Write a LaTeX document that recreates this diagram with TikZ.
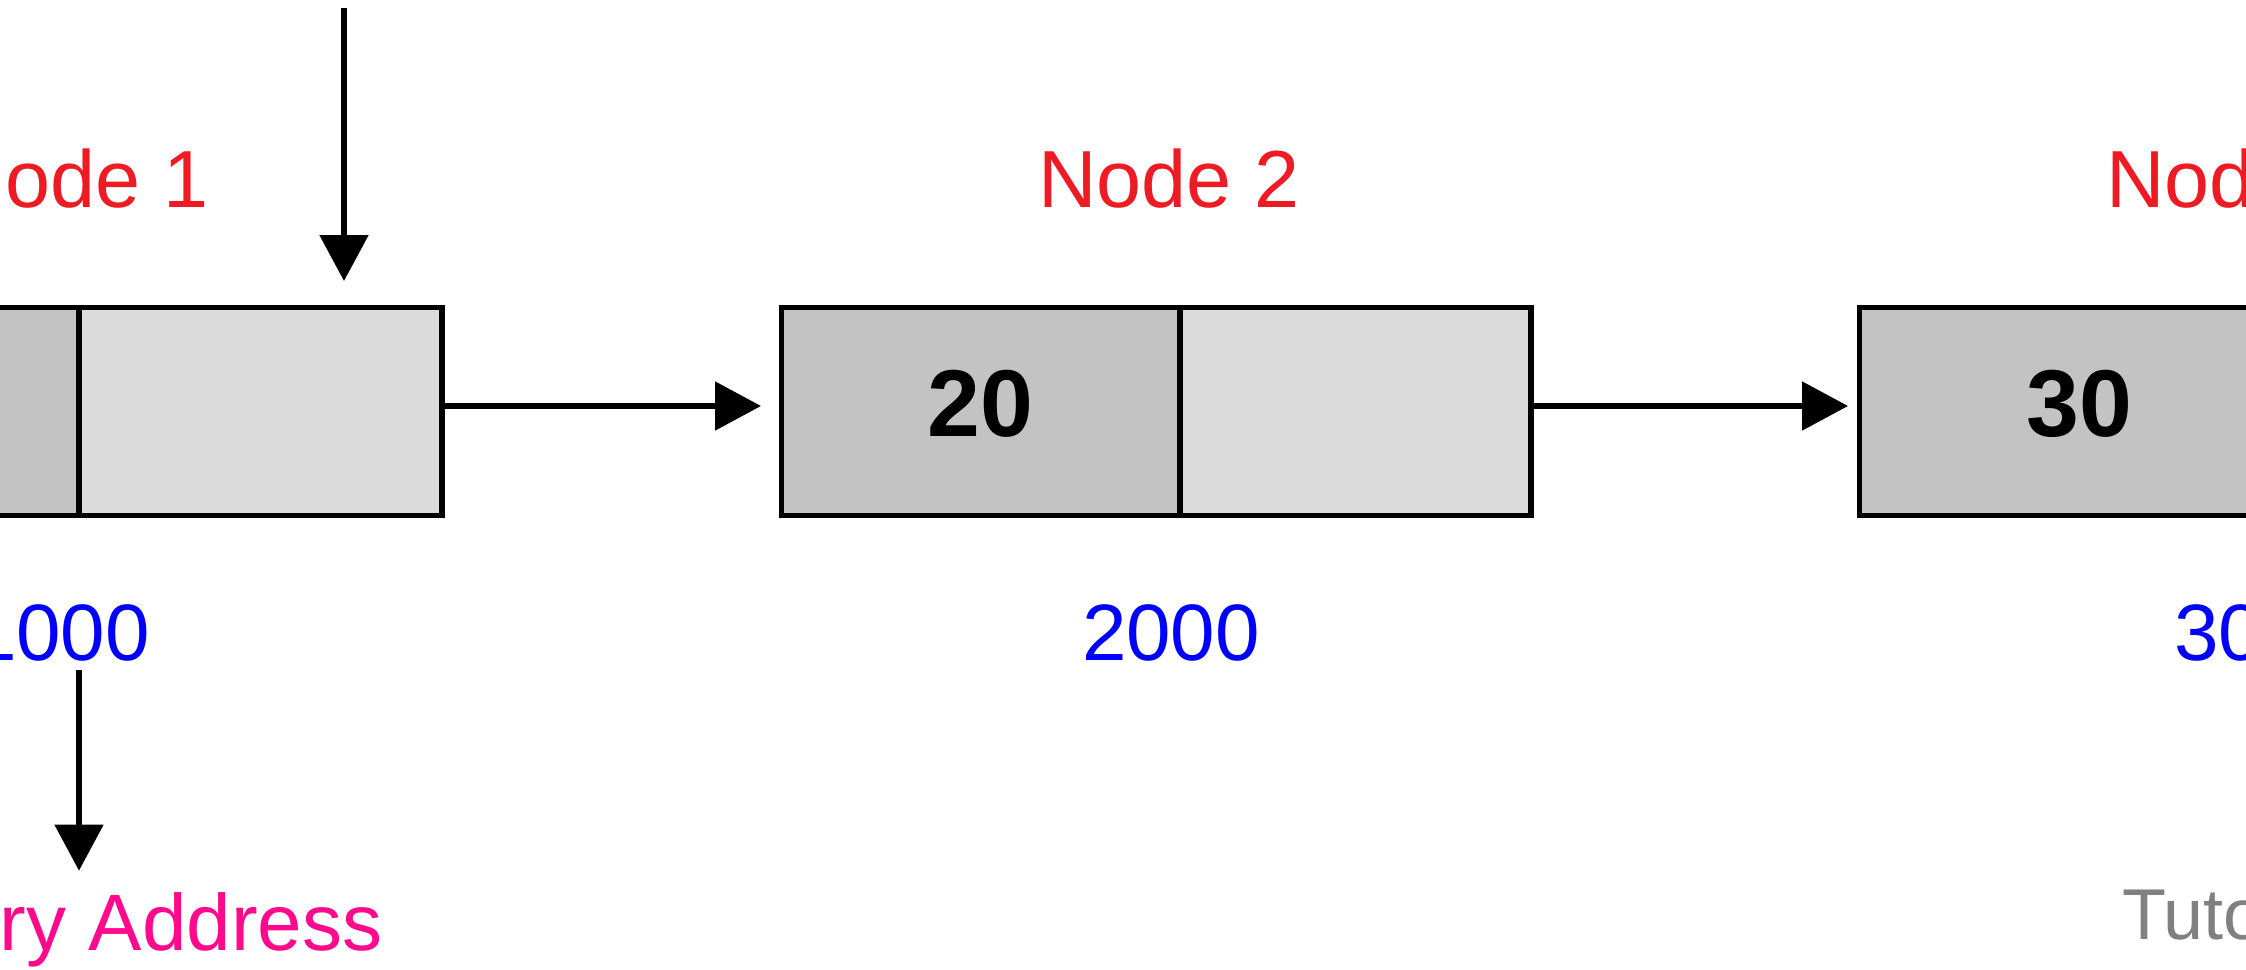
\documentclass[tikz,border=0pt]{standalone}
\usepackage{fontspec}
\setmainfont{Liberation Sans}
\usetikzlibrary{arrows.meta}
\definecolor{lblred}{RGB}{237,28,36}
\definecolor{addrblue}{RGB}{0,0,255}
\definecolor{mempink}{RGB}{255,10,140}
\definecolor{datafill}{RGB}{195,195,195}
\definecolor{linkfill}{RGB}{219,219,219}
\definecolor{markgray}{RGB}{128,128,128}
\tikzset{
  datapart/.style={draw=black, line width=2.8pt, fill=datafill, outer sep=0pt,
    minimum height=104pt, inner sep=0pt, text depth=8pt,
    font=\fontsize{47.5pt}{50pt}\selectfont\bfseries},
  nextpart/.style={draw=black, line width=2.8pt, fill=linkfill, outer sep=0pt,
    minimum height=104pt, inner sep=0pt},
  nodelbl/.style={text=lblred, inner sep=0pt, anchor=base,
    font=\fontsize{40.5pt}{44pt}\selectfont},
  addrlbl/.style={text=addrblue, inner sep=0pt, anchor=base,
    font=\fontsize{40pt}{44pt}\selectfont},
  memlbl/.style={text=mempink, inner sep=0pt, anchor=base,
    font=\fontsize{40pt}{44pt}\selectfont},
  marklbl/.style={text=markgray, inner sep=0pt, anchor=base west,
    font=\fontsize{36pt}{40pt}\selectfont},
  link/.style={line width=2.6pt, -{Triangle[length=23pt,width=24pt]}}
}
\begin{document}
\begin{tikzpicture}[x=0.5pt,y=-0.5pt]
\useasboundingbox (0,0) rectangle (2246,969);
\clip (0,0) rectangle (2246,969);

% list nodes: data part and link part
\node[datapart, minimum width=199.25pt] (n1d) at (-120.25,411.5) {};
\node[nextpart, minimum width=181.5pt] (n1n) at (260.5,411.5) {};
\node[datapart, minimum width=199.25pt] (n2d) at (980.75,411.5) {20};
\node[nextpart, minimum width=175.5pt] (n2n) at (1355.5,411.5) {};
\node[datapart, minimum width=220pt] (n3d) at (2079.5,411.5) {30};

% titles above the nodes
\node[nodelbl] (t1) at (78,207) {Node 1};
\node[nodelbl] (t2) at (1169,207) {Node 2};
\node[nodelbl] (t3) at (2237,207) {Node 3};

% addresses below the nodes
\node[addrlbl] (a1) at (61,660) {1000};
\node[addrlbl] (a2) at (1171,660) {2000};
\node[addrlbl] (a3) at (2263,660) {3000};

\node[memlbl] (mem) at (80,950) {Memory Address};
\node[marklbl] (mark) at (2122,939) {Tuto};

% head pointer
\coordinate (head) at (344,8);
\draw[link, shorten >=13.25pt] (head) -- (head |- n1n.north);

% links between nodes
\draw[link, shorten >=10.25pt] ([yshift=2.75pt]n1n.east) -- ([yshift=2.75pt]n2d.west);
\draw[link, shorten >=5.75pt] ([yshift=2.75pt]n2n.east) -- ([yshift=2.75pt]n3d.west);

% address pointer
\draw[link, shorten <=4.5pt, shorten >=10.5pt] (n1d.east |- a1.south) -- (n1d.east |- mem.north);
\end{tikzpicture}
\end{document}
